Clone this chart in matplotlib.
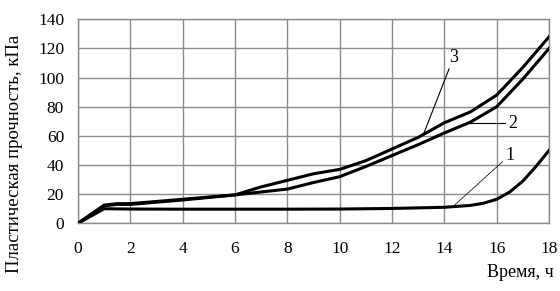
import matplotlib
matplotlib.use("Agg")
import matplotlib.pyplot as plt

# Data (time, h; plastic strength, kPa)
t = [0, 1, 1.5, 2, 4, 6, 7, 8, 9, 10, 11, 12, 13, 14, 15, 16, 17, 18]
curve2 = [0, 12, 13, 13, 16, 19.5, 21.5, 23.5, 28, 32, 39, 46.5, 54, 62, 69.5, 80, 99, 120]
curve3 = [0, 12.5, 13.5, 13.5, 16.5, 19.5, 25, 29.5, 34, 37, 43, 51, 59, 69, 76.5, 88, 107, 128]
t1 = [0, 1, 2, 4, 6, 8, 10, 12, 14, 15, 15.5, 16, 16.5, 17, 17.5, 18]
curve1 = [0, 10, 9.8, 9.7, 9.7, 9.7, 9.8, 10.2, 11, 12.3, 13.8, 16.5, 21.5, 29, 39, 50]

xticks = [0, 2, 4, 6, 8, 10, 12, 14, 16, 18]
yticks = [0, 20, 40, 60, 80, 100, 120, 140]

plt.rcParams['font.family'] = ['Liberation Serif', 'DejaVu Serif']

fig = plt.figure(figsize=(5.6, 2.91), dpi=100)
ax = fig.add_axes([0.1393, 0.2326, 0.8411, 0.701])

grid_c = '#8c8c8c'
ax.set_xlim(0, 18)
ax.set_ylim(0, 140)
ax.set_xticks(xticks)
ax.set_yticks(yticks)
ax.grid(True, color=grid_c, lw=1.0)
for s in ax.spines.values():
    s.set_color(grid_c)
    s.set_linewidth(1.0)
ax.tick_params(length=0, labelsize=12.5)
ax.tick_params(axis='x', pad=13)
ax.tick_params(axis='y', pad=10)

ax.plot(t1, curve1, color='black', lw=2.2, zorder=3)
ax.plot(t, curve2, color='black', lw=2.2, zorder=3)
ax.plot(t, curve3, color='black', lw=2.2, zorder=3)

# Curve labels with leader lines
ax.annotate('1', xy=(14.3, 11), xytext=(16.5, 41), fontsize=13,
            ha='center', va='bottom',
            arrowprops=dict(arrowstyle='-', color='black', lw=0.6, linestyle=(0, (2, 1)),
                            shrinkA=0, shrinkB=0))
ax.annotate('2', xy=(14.8, 68.5), xytext=(16.45, 68.5), fontsize=13,
            ha='left', va='center',
            arrowprops=dict(arrowstyle='-', color='black', lw=0.8,
                            shrinkA=0, shrinkB=0))
ax.annotate('3', xy=(13.2, 61), xytext=(14.35, 108), fontsize=13,
            ha='center', va='bottom',
            arrowprops=dict(arrowstyle='-', color='black', lw=0.8,
                            shrinkA=0, shrinkB=0))

ax.set_ylabel('Пластическая прочность, кПа', fontsize=13.5)
ax.yaxis.set_label_coords(-0.116, 0.34)
fig.text(0.988, 0.062, 'Время, ч', fontsize=13, ha='right', va='center')

fig.savefig('out.png', dpi=100)
